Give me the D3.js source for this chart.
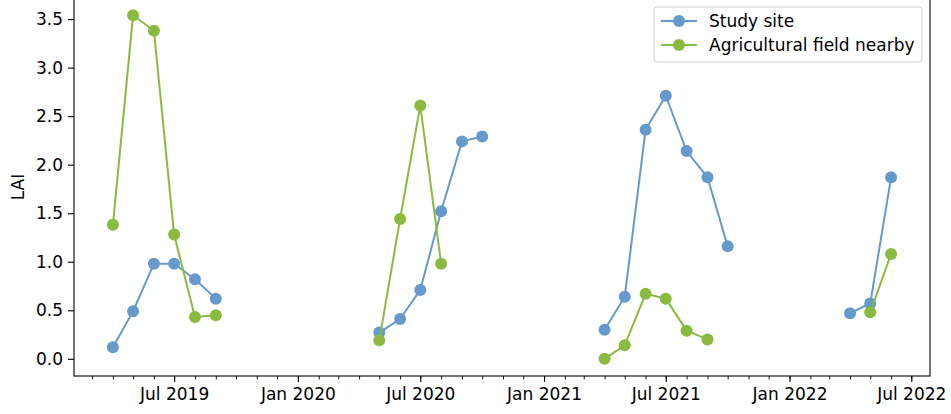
<!DOCTYPE html>
<html>
<head>
<meta charset="utf-8">
<script src="https://cdn.jsdelivr.net/npm/d3@7"></script>
<style>
  html, body { margin: 0; padding: 0; background: #fff; }
  svg { display: block; font-family: "DejaVu Sans", sans-serif; }
</style>
</head>
<body>
<svg id="chart" width="951" height="414"></svg>
<script>
// Monthly LAI observations (first of each month), grouped by growing season.
const months = [
  "2019-04", "2019-05", "2019-06", "2019-07", "2019-08", "2019-09",
  "2020-05", "2020-06", "2020-07", "2020-08", "2020-09", "2020-10",
  "2021-04", "2021-05", "2021-06", "2021-07", "2021-08", "2021-09", "2021-10",
  "2022-04", "2022-05", "2022-06"
];
const studySite = [
  0.12, 0.49, 0.98, 0.98, 0.82, 0.62,
  0.27, 0.41, 0.71, 1.52, 2.24, 2.29,
  0.30, 0.64, 2.36, 2.71, 2.14, 1.87, 1.16,
  0.47, 0.57, 1.87
];
const agriField = [
  1.38, 3.54, 3.38, 1.28, 0.43, 0.45,
  0.19, 1.44, 2.61, 0.98, null, null,
  0.00, 0.14, 0.67, 0.62, 0.29, 0.20, null,
  null, 0.48, 1.08
];
const seriesNames = ["Study site", "Agricultural field nearby"];
const seriesColors = ["#6699cc", "#8aba40"];
const yTicks = [0, 0.5, 1.0, 1.5, 2.0, 2.5, 3.0, 3.5];

const FONT = 17;
const svg = d3.select("#chart");
const plotLeft = 74, plotRight = 930, plotTop = -2, plotBottom = 376;

const parse = d3.timeParse("%Y-%m");
const dates = months.map(parse);

// Axis limits with a 5% margin around the data
const xMin = d3.min(dates), xMax = d3.max(dates);
const xPad = (xMax - xMin) * 0.05;
const x = d3.scaleTime()
  .domain([new Date(+xMin - xPad), new Date(+xMax + xPad)])
  .range([plotLeft, plotRight]);

const allVals = studySite.concat(agriField).filter(v => v != null);
const yLo = d3.min(allVals), yHi = d3.max(allVals);
const yPad = (yHi - yLo) * 0.05;
const y = d3.scaleLinear()
  .domain([yLo - yPad, yHi + yPad])
  .range([plotBottom, plotTop]);

// Y axis
const yAxis = svg.append("g")
  .attr("transform", `translate(${plotLeft},0)`)
  .call(d3.axisLeft(y).tickValues(yTicks).tickFormat(d3.format(".1f")).tickSize(6).tickPadding(5));
yAxis.select(".domain").remove();
yAxis.attr("font-size", FONT).attr("font-family", "DejaVu Sans");
yAxis.selectAll("line").attr("stroke", "#000").attr("stroke-width", 1.1);
yAxis.selectAll("text").attr("fill", "#000");

// X axis: monthly minor ticks and Jan/Jul major ticks
const minorTicks = d3.timeMonth.range(x.domain()[0], x.domain()[1]);
const majorTicks = minorTicks.filter(d => d.getMonth() === 0 || d.getMonth() === 6);

const xMinor = svg.append("g")
  .attr("transform", `translate(0,${plotBottom})`)
  .call(d3.axisBottom(x).tickValues(minorTicks).tickFormat("").tickSize(3.5));
xMinor.select(".domain").remove();
xMinor.selectAll("line").attr("stroke", "#000").attr("stroke-width", 0.9);

const xMajor = svg.append("g")
  .attr("transform", `translate(0,${plotBottom})`)
  .call(d3.axisBottom(x).tickValues(majorTicks).tickFormat(d3.timeFormat("%b %Y")).tickSize(6).tickPadding(6));
xMajor.select(".domain").remove();
xMajor.attr("font-size", FONT).attr("font-family", "DejaVu Sans");
xMajor.selectAll("line").attr("stroke", "#000").attr("stroke-width", 1.1);
xMajor.selectAll("text").attr("fill", "#000");

// Spines
svg.append("rect")
  .attr("x", plotLeft).attr("y", plotTop)
  .attr("width", plotRight - plotLeft).attr("height", plotBottom - plotTop)
  .attr("fill", "none").attr("stroke", "#000").attr("stroke-width", 1.1);

// Y label
svg.append("text")
  .attr("transform", `translate(24,${(plotTop + plotBottom) / 2}) rotate(-90)`)
  .attr("text-anchor", "middle")
  .attr("font-size", FONT)
  .text("LAI");

// Series: one polyline per growing season, markers on every observation
const plot = svg.append("g");
[studySite, agriField].forEach((vals, si) => {
  const pts = dates.map((d, i) => ({ date: d, v: vals[i] })).filter(p => p.v != null);
  const seasons = d3.groups(pts, p => p.date.getFullYear());
  const line = d3.line().x(p => x(p.date)).y(p => y(p.v));
  const g = plot.append("g");
  seasons.forEach(([, s]) => {
    g.append("path")
      .attr("d", line(s))
      .attr("fill", "none")
      .attr("stroke", seriesColors[si])
      .attr("stroke-width", 2)
      .attr("stroke-linejoin", "round");
  });
  g.selectAll("circle").data(pts).join("circle")
    .attr("cx", p => x(p.date))
    .attr("cy", p => y(p.v))
    .attr("r", 6)
    .attr("fill", seriesColors[si]);
});

// Legend
const lg = svg.append("g").attr("transform", "translate(654,7)");
lg.append("rect")
  .attr("width", 268).attr("height", 55)
  .attr("rx", 3)
  .attr("fill", "rgba(255,255,255,0.8)")
  .attr("stroke", "#d0d0d0").attr("stroke-width", 1);
seriesNames.forEach((name, i) => {
  const ry = 14 + i * 24;
  lg.append("line")
    .attr("x1", 7).attr("x2", 43).attr("y1", ry).attr("y2", ry)
    .attr("stroke", seriesColors[i]).attr("stroke-width", 2);
  lg.append("circle").attr("cx", 25).attr("cy", ry).attr("r", 6).attr("fill", seriesColors[i]);
  lg.append("text")
    .attr("x", 55).attr("y", ry).attr("dy", "0.35em")
    .attr("font-size", FONT)
    .text(name);
});
</script>
</body>
</html>
